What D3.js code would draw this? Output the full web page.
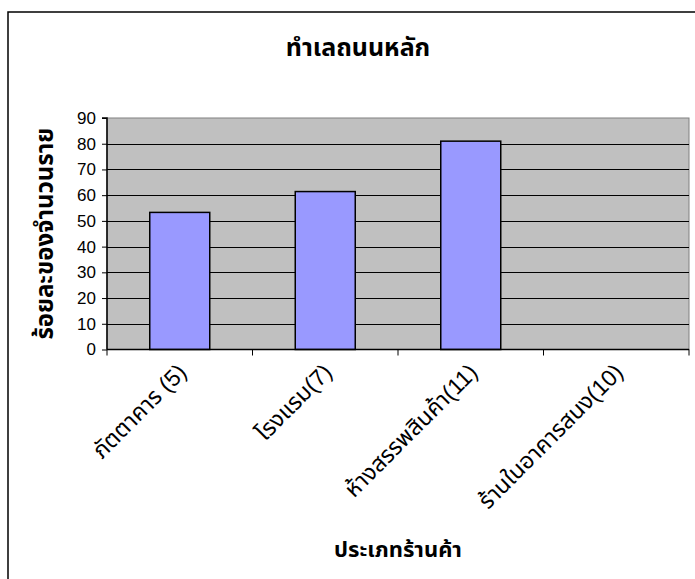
<!DOCTYPE html>
<html><head><meta charset="utf-8">
<script src="https://cdn.jsdelivr.net/npm/d3@7"></script>
<style>body{margin:0;background:#fff}svg{display:block}</style>
</head><body>
<script>
const categories = ["ภัตตาคาร (5)", "โรงแรม(7)", "ห้างสรรพสินค้า(11)", "ร้านในอาคารสนง(10)"];
const values = [53.3, 61.4, 81, 0];
const yTicks = [0,10,20,30,40,50,60,70,80,90];
const title = "ทำเลถนนหลัก";
const xTitle = "ประเภทร้านค้า";
const yTitle = "ร้อยละของจำนวนราย";

const W = 695, H = 579;
const svg = d3.select("body").append("svg").attr("width", W).attr("height", H);
const font = "Arial, 'Liberation Sans', 'Noto Sans Thai', 'Noto Sans', sans-serif";

// outer chart border
svg.append("rect").attr("x", 8).attr("y", 12).attr("width", 720).attr("height", 600)
  .attr("fill", "#fff").attr("stroke", "#000").attr("stroke-width", 1.5);

const L = 107, R = 689, T = 118, B = 349.5;
const xb = d3.scaleBand().domain(categories).range([L, R]);
const y = d3.scaleLinear().domain([0, 90]).range([B, T]);

svg.append("rect").attr("x", L).attr("y", T).attr("width", R - L).attr("height", B - T)
  .attr("fill", "#C0C0C0").attr("stroke", "#808080").attr("stroke-width", 1);

// gridlines
svg.append("g").selectAll("line").data(yTicks.filter(d => d > 0 && d < 90)).join("line")
  .attr("x1", L).attr("x2", R).attr("y1", d => Math.round(y(d)) + 0.5).attr("y2", d => Math.round(y(d)) + 0.5)
  .attr("stroke", "#000").attr("stroke-width", 1);

// bars
svg.append("g").selectAll("rect").data(categories.map((c, i) => ({c, v: values[i]})).filter(d => d.v > 0)).join("rect")
  .attr("x", d => xb(d.c) + xb.bandwidth() / 2 - 30)
  .attr("width", 60)
  .attr("y", d => y(d.v))
  .attr("height", d => B - y(d.v))
  .attr("fill", "#9999FF").attr("stroke", "#000").attr("stroke-width", 1.5);

// y axis
const yAxis = d3.axisLeft(y).tickValues(yTicks).tickSize(5).tickPadding(6);
const gy = svg.append("g").attr("transform", `translate(${L},0)`).call(yAxis);
gy.select(".domain").attr("stroke", "#000").attr("stroke-width", 1.5).attr("d", `M-5,${T}H0V${B}`);
gy.selectAll(".tick line").attr("stroke", "#000");
gy.selectAll("text").attr("font-family", font).attr("font-size", 17).attr("fill", "#000");

// x axis
const xAxis = d3.axisBottom(xb).tickSize(0).tickFormat("");
const gx = svg.append("g").attr("transform", `translate(0,${B})`).call(xAxis);
gx.select(".domain").attr("stroke", "#000").attr("stroke-width", 1.5).attr("d", `M${L},0H${R}`);
const bounds = categories.map(c => xb(c)).concat([R]);
gx.selectAll("line.tb").data(bounds).join("line").attr("class", "tb")
  .attr("x1", d => d).attr("x2", d => d).attr("y1", 0).attr("y2", 6).attr("stroke", "#000");

// category labels
svg.append("g").selectAll("text").data(categories).join("text")
  .attr("transform", c => `translate(${xb(c) + xb.bandwidth() / 2 - 4},${B + 12}) rotate(-45)`)
  .attr("text-anchor", "end").attr("dy", "0.75em")
  .attr("font-family", font).attr("font-size", 23).attr("fill", "#000")
  .text(d => d);

// titles
svg.append("text").attr("x", 358).attr("y", 56).attr("text-anchor", "middle")
  .attr("font-family", font).attr("font-size", 25).attr("font-weight", "bold").text(title);
svg.append("text").attr("x", (L + R) / 2).attr("y", 557).attr("text-anchor", "middle")
  .attr("font-family", font).attr("font-size", 22).attr("font-weight", "bold").text(xTitle);
svg.append("text").attr("transform", `translate(53,${(T + B) / 2}) rotate(-90)`).attr("text-anchor", "middle")
  .attr("font-family", font).attr("font-size", 24).attr("font-weight", "bold").text(yTitle);
</script>
</body></html>
